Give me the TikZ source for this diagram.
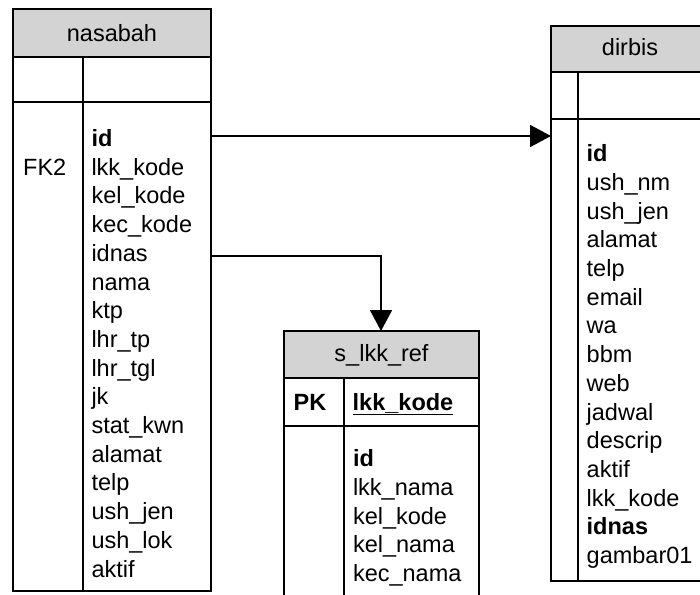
\documentclass[tikz,border=0pt]{standalone}
\usepackage{fontspec}
\setmainfont{Liberation Sans}
\usetikzlibrary{arrows.meta,calc}
\definecolor{hdr}{HTML}{D3D3D3}
\begin{document}
\begin{tikzpicture}[x=1pt,y=-1pt,
  tbl/.style={draw=black, line width=1.8pt, inner sep=0pt, outer sep=0pt, anchor=north west},
  hd/.style={tbl, fill=hdr},
  divider/.style={draw=black, line width=1.8pt},
  txt/.style={font=\fontsize{23.5}{28.7}\selectfont, inner sep=0pt, anchor=base west},
  htxt/.style={font=\fontsize{23.5}{28.7}\selectfont, inner sep=0pt, anchor=base},
  conn/.style={draw=black, line width=1.8pt, -{Triangle[length=21pt,width=22pt]}}]
\useasboundingbox (0,0) rectangle (700,594);
\fill[white] (0,0) rectangle (700,594);
\clip (0,0) rectangle (700,594);

% ---------- nasabah ----------
\node[hd, minimum width=198pt, minimum height=48pt] (nash) at (13,9) {};
\node[tbl, minimum width=198pt, minimum height=534pt] (nasb) at (13,57) {};
\draw[divider] (13,102) -- (211,102);
\draw[divider] (83,57) -- (83,591);
\node[htxt] (nasht) at (112,41.7) {nasabah};
\node[txt] (fk2) at (23,175) {FK2};
\foreach \t [count=\i from 0] in {{\textbf{id}},lkk\_kode,kel\_kode,kec\_kode,idnas,nama,ktp,lhr\_tp,lhr\_tgl,jk,stat\_kwn,alamat,telp,ush\_jen,ush\_lok,aktif}
  \node[txt] (nasf\i) at (91.3,146.5+28.7*\i) {\t};

% ---------- s_lkk_ref ----------
\node[hd, minimum width=195pt, minimum height=47pt] (refh) at (284,331) {};
\node[tbl, minimum width=195pt, minimum height=240pt] (refb) at (284,378) {};
\draw[divider] (284,426) -- (479,426);
\draw[divider] (344,378) -- (344,620);
\node[htxt] (refht) at (381.5,361.7) {s\_lkk\_ref};
\node[txt] (pk) at (293.5,410) {\textbf{PK}};
\node[txt] (refpk) at (352.5,410) {\underline{\textbf{lkk\_kode}}};
\foreach \t [count=\i from 0] in {{\textbf{id}},lkk\_nama,kel\_kode,kel\_nama,kec\_nama}
  \node[txt] (reff\i) at (352.8,466.7+28.7*\i) {\t};

% ---------- dirbis ----------
\node[hd, minimum width=158pt, minimum height=46pt] (dirh) at (551,26) {};
\node[tbl, minimum width=158pt, minimum height=509pt] (dirb) at (551,72) {};
\draw[divider] (551,119) -- (709,119);
\draw[divider] (578,72) -- (578,581);
\node[htxt] (dirht) at (630,56) {dirbis};
\foreach \t [count=\i from 0] in {{\textbf{id}},ush\_nm,ush\_jen,alamat,telp,email,wa,bbm,web,jadwal,descrip,aktif,lkk\_kode,{\textbf{idnas}},gambar01}
  \node[txt] (dirf\i) at (586.5,161.7+28.7*\i) {\t};

% ---------- connectors ----------
\draw[conn] ([yshift=-79pt]nasb.north east) -- ([yshift=-64pt]dirb.north west);
\draw[conn] ([yshift=-199pt]nasb.north east) -| ([xshift=-0.5pt]refh.north);
\end{tikzpicture}
\end{document}
